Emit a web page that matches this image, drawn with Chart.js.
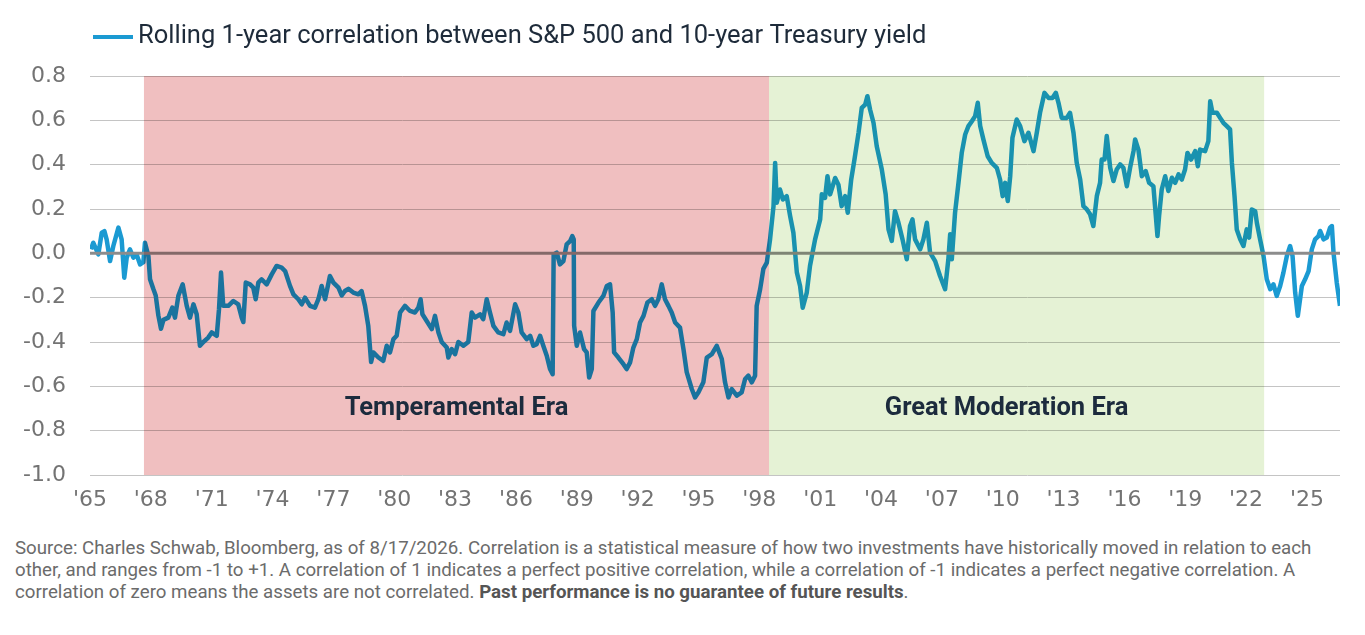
<!DOCTYPE html>
<html>
<head>
<meta charset="utf-8">
<script src="https://cdn.jsdelivr.net/npm/chart.js@4.4.1/dist/chart.umd.min.js"></script>
<style>
  html, body { margin: 0; padding: 0; background: #ffffff; }
  #wrap { position: relative; width: 1365px; height: 635px; overflow: hidden; }
  #c { position: absolute; left: 0; top: 0; }
  #foot { position: absolute; left: 15px; top: 537px; font-family: Roboto, "Noto Sans", sans-serif;
          font-size: 18.7px; line-height: 22px; color: #6b6b6b; white-space: nowrap; }
  #foot b { color: #555555; font-weight: 700; }
</style>
</head>
<body>
<div id="wrap">
  <canvas id="c" width="1365" height="530"></canvas>
  <div id="foot">
    Source: Charles Schwab, Bloomberg, as of 8/17/2026. Correlation is a statistical measure of how two investments have historically moved in relation to each<br>
    other, and ranges from -1 to +1. A correlation of 1 indicates a perfect positive correlation, while a correlation of -1 indicates a perfect negative correlation. A<br>
    correlation of zero means the assets are not correlated. <b>Past performance is no guarantee of future results</b>.
  </div>
</div>
<script>
const seriesLabel = "Rolling 1-year correlation between S&P 500 and 10-year Treasury yield";

const years = [
  1965.05,1965.16,1965.41,1965.58,1965.71,1965.82,1965.99,1966.15,1966.40,1966.56,1966.69,1966.81,1966.97,1967.14,1967.30,1967.47,1967.63,1967.71,1967.88,1967.96,
  1968.12,1968.24,1968.37,1968.50,1968.62,1968.86,1969.06,1969.19,1969.36,1969.57,1969.77,1969.93,1970.10,1970.26,1970.42,1970.59,1970.83,1971.00,1971.25,1971.36,
  1971.46,1971.57,1971.82,1972.07,1972.31,1972.48,1972.56,1972.68,1972.89,1973.05,1973.17,1973.30,1973.46,1973.71,1973.96,1974.20,1974.45,1974.62,1974.86,1975.03,
  1975.27,1975.44,1975.60,1975.85,1976.09,1976.26,1976.42,1976.59,1976.83,1977.00,
  1977.25,1977.41,1977.57,1977.74,1977.98,1978.23,1978.39,1978.56,1978.72,1978.86,1978.97,1979.22,1979.46,1979.63,1979.79,1979.96,1980.12,1980.29,1980.53,1980.78,
  1981.02,1981.19,1981.30,1981.39,1981.60,1981.85,1982.01,1982.18,1982.34,1982.59,1982.67,1982.83,1983.00,1983.16,1983.41,1983.65,1983.82,1983.98,1984.23,1984.39,
  1984.56,1984.72,1984.89,1985.13,1985.38,1985.54,1985.71,1985.96,1986.12,1986.28,1986.53,1986.70,1986.86,1987.02,1987.19,1987.35,1987.52,1987.68,1987.81,1987.86,
  1988.01,1988.17,1988.34,1988.50,1988.67,1988.78,1988.85,
  1988.87,1989.00,1989.16,1989.36,1989.49,1989.61,1989.74,1989.82,1990.07,1990.31,1990.48,1990.64,1990.77,1990.84,1991.05,1991.30,1991.46,1991.63,1991.79,1991.96,
  1992.12,1992.29,1992.48,1992.70,1992.86,1993.02,1993.19,1993.35,1993.52,1993.68,1993.85,1994.09,1994.26,1994.42,1994.67,1994.83,1995.00,1995.24,1995.41,1995.66,
  1995.90,1996.15,1996.31,1996.48,1996.64,1996.89,1997.13,1997.30,1997.46,1997.63,1997.79,1997.87,1998.04,1998.20,1998.37,1998.53,1998.70,1998.78,1998.86,1999.02,
  1999.16,1999.35,1999.52,1999.68,1999.85,2000.01,2000.14,2000.34,2000.50,2000.75,
  2001.00,2001.08,2001.24,2001.36,2001.49,2001.74,2001.90,2002.06,2002.23,2002.36,2002.53,2002.69,2002.89,2003.05,2003.22,2003.33,2003.46,2003.63,2003.79,2004.04,
  2004.23,2004.37,2004.53,2004.69,2004.86,2005.06,2005.27,2005.43,2005.55,2005.68,2005.93,2006.09,2006.26,2006.42,2006.67,2006.91,2007.16,2007.32,2007.41,2007.49,
  2007.65,2007.82,2007.98,2008.15,2008.31,2008.48,2008.64,2008.77,2008.89,2009.05,2009.26,2009.46,2009.71,2009.87,2010.00,2010.12,2010.25,2010.37,2010.48,2010.69,
  2010.86,2011.07,2011.27,2011.52,2011.68,2011.84,2012.06,2012.26,2012.45,2012.62,2012.75,2012.91,2013.16,2013.32,2013.49,2013.65,
  2013.82,2013.98,2014.15,2014.31,2014.47,2014.64,2014.80,2014.88,2015.02,2015.13,2015.30,2015.46,2015.62,2015.79,2015.95,2016.12,2016.28,2016.45,2016.53,2016.69,
  2016.86,2017.05,2017.22,2017.43,2017.55,2017.63,2017.71,2017.84,2018.01,2018.17,2018.34,2018.50,2018.67,2018.83,2018.99,2019.11,2019.29,2019.49,2019.62,2019.73,
  2019.98,2020.14,2020.23,2020.34,2020.56,2020.72,2020.88,2021.05,2021.21,2021.30,2021.43,2021.54,2021.71,2021.87,2022.03,2022.15,2022.28,2022.45,2022.53,2022.69,
  2022.86,2023.02,2023.19,2023.35,2023.51,2023.68,2023.84,2024.01,2024.17,2024.29,2024.42,2024.55,2024.75,2024.91,2025.08,2025.24,2025.40,2025.57,2025.65,2025.82,
  2025.98,2026.14,2026.23,2026.31,2026.47,2026.63
];

const corr = [
  0.018,0.048,-0.005,0.093,0.100,0.063,-0.035,0.033,0.116,0.063,-0.110,-0.020,0.018,-0.020,-0.005,-0.050,-0.040,0.048,-0.012,-0.117,
  -0.160,-0.190,-0.280,-0.340,-0.300,-0.290,-0.245,-0.290,-0.190,-0.140,-0.237,-0.290,-0.230,-0.275,-0.417,-0.400,-0.380,-0.357,-0.372,-0.252,
  -0.087,-0.237,-0.237,-0.215,-0.230,-0.290,-0.310,-0.132,-0.140,-0.155,-0.207,-0.132,-0.117,-0.140,-0.095,-0.057,-0.065,-0.080,-0.147,-0.185,
  -0.207,-0.230,-0.200,-0.237,-0.245,-0.207,-0.147,-0.207,-0.102,-0.132,
  -0.155,-0.190,-0.170,-0.160,-0.177,-0.185,-0.170,-0.237,-0.327,-0.490,-0.447,-0.470,-0.485,-0.417,-0.447,-0.387,-0.372,-0.267,-0.237,-0.260,
  -0.267,-0.245,-0.207,-0.275,-0.305,-0.342,-0.282,-0.357,-0.400,-0.425,-0.470,-0.432,-0.455,-0.400,-0.417,-0.400,-0.267,-0.290,-0.275,-0.297,
  -0.207,-0.267,-0.327,-0.357,-0.365,-0.312,-0.350,-0.230,-0.267,-0.357,-0.387,-0.372,-0.417,-0.410,-0.372,-0.417,-0.462,-0.522,-0.545,-0.005,
  0.003,-0.050,-0.035,0.040,0.055,0.078,0.063,
  -0.327,-0.417,-0.357,-0.432,-0.447,-0.560,-0.522,-0.260,-0.222,-0.192,-0.147,-0.140,-0.267,-0.447,-0.470,-0.500,-0.522,-0.492,-0.425,-0.387,
  -0.312,-0.282,-0.222,-0.207,-0.237,-0.207,-0.140,-0.207,-0.237,-0.267,-0.312,-0.335,-0.432,-0.536,-0.612,-0.650,-0.627,-0.582,-0.470,-0.455,
  -0.417,-0.477,-0.582,-0.650,-0.612,-0.642,-0.627,-0.567,-0.552,-0.582,-0.552,-0.237,-0.162,-0.070,-0.042,0.063,0.213,0.408,0.228,0.288,
  0.243,0.258,0.168,0.093,-0.086,-0.147,-0.245,-0.177,-0.056,0.063,
  0.153,0.266,0.250,0.348,0.266,0.340,0.310,0.213,0.258,0.183,0.333,0.423,0.543,0.656,0.671,0.709,0.649,0.589,0.483,0.378,
  0.266,0.108,0.056,0.190,0.138,0.063,-0.027,0.123,0.153,0.063,0.018,0.063,0.138,0.003,-0.035,-0.102,-0.162,-0.027,0.086,-0.027,
  0.183,0.318,0.453,0.536,0.574,0.596,0.619,0.679,0.574,0.513,0.438,0.408,0.386,0.333,0.258,0.318,0.236,0.348,0.521,0.604,
  0.574,0.506,0.544,0.461,0.544,0.634,0.724,0.701,0.701,0.724,0.679,0.611,0.611,0.634,0.544,0.408,
  0.333,0.213,0.198,0.176,0.123,0.258,0.318,0.423,0.423,0.529,0.386,0.326,0.378,0.401,0.386,0.303,0.386,0.461,0.514,0.468,
  0.348,0.371,0.318,0.303,0.168,0.078,0.168,0.288,0.348,0.281,0.341,0.318,0.356,0.333,0.378,0.453,0.423,0.461,0.393,0.468,
  0.461,0.506,0.686,0.634,0.634,0.611,0.589,0.574,0.559,0.408,0.258,0.108,0.063,0.033,0.108,0.071,0.198,0.190,0.138,0.063,
  -0.012,-0.117,-0.162,-0.140,-0.192,-0.147,-0.087,-0.012,0.033,-0.012,-0.177,-0.282,-0.147,-0.117,-0.080,0.018,0.063,0.078,0.101,0.063,
  0.071,0.116,0.123,0.003,-0.132,-0.237
];

const tickYears = [1965,1968,1971,1974,1977,1980,1983,1986,1989,1992,1995,1998,2001,2004,2007,2010,2013,2016,2019,2022,2025];

const eraNames = ["Temperamental Era", "Great Moderation Era"];
const eraStarts = [1967.66, 1998.48];
const eraEnds = [1998.48, 2022.89];
const eraColors = ["#f0bfc0", "#e5f2d5"];

const xMin = 1965, xMax = 2026.63;
const yMin = -1.0, yMax = 0.8;

const FONT = 'Roboto, "Noto Sans", sans-serif';
const TICK_FONT = '"DejaVu Sans", Roboto, sans-serif';
const LINE_COLOR = '#1b9ad2';
const ERA_LABEL_SHIFT = [0, -10];

const overlayPlugin = {
  id: 'overlay',
  afterDatasetsDraw(chart) {
    const { ctx, chartArea, scales } = chart;
    const x = scales.x, y = scales.y;
    ctx.save();
    const y0 = y.getPixelForValue(0);
    ctx.strokeStyle = '#8c8c8c';
    ctx.lineWidth = 3;
    ctx.beginPath();
    ctx.moveTo(chartArea.left, y0);
    ctx.lineTo(chartArea.right, y0);
    ctx.stroke();
    ctx.globalCompositeOperation = 'multiply';
    for (let i = 0; i < eraNames.length; i++) {
      const x1 = x.getPixelForValue(eraStarts[i]);
      const x2 = x.getPixelForValue(eraEnds[i]);
      ctx.fillStyle = eraColors[i];
      ctx.fillRect(x1, chartArea.top, x2 - x1, chartArea.bottom - chartArea.top);
    }
    ctx.globalCompositeOperation = 'source-over';
    ctx.fillStyle = '#1c2b3d';
    ctx.font = 'bold 25.5px ' + FONT;
    ctx.textAlign = 'center';
    ctx.textBaseline = 'middle';
    for (let i = 0; i < eraNames.length; i++) {
      const cx = (x.getPixelForValue(eraStarts[i]) + x.getPixelForValue(eraEnds[i])) / 2 + ERA_LABEL_SHIFT[i];
      ctx.fillText(eraNames[i], cx, y.getPixelForValue(-0.7));
    }
    ctx.restore();
  },
  afterDraw(chart) {
    const { ctx } = chart;
    ctx.save();
    ctx.strokeStyle = LINE_COLOR;
    ctx.lineWidth = 4;
    ctx.beginPath();
    ctx.moveTo(93, 37);
    ctx.lineTo(133, 37);
    ctx.stroke();
    ctx.fillStyle = '#1e2b3a';
    ctx.font = '25.5px ' + FONT;
    ctx.textAlign = 'left';
    ctx.textBaseline = 'middle';
    ctx.fillText(chart.data.datasets[0].label, 138, 37);
    ctx.restore();
  }
};

new Chart(document.getElementById('c'), {
  type: 'line',
  data: {
    datasets: [{
      label: seriesLabel,
      data: years.map((t, i) => ({ x: t, y: corr[i] })),
      borderColor: LINE_COLOR,
      backgroundColor: LINE_COLOR,
      borderWidth: 4.5,
      pointRadius: 0,
      tension: 0,
      borderJoinStyle: 'round',
      fill: false
    }]
  },
  options: {
    responsive: false,
    animation: false,
    devicePixelRatio: 1,
    layout: { padding: { top: 76, right: 25, left: 0, bottom: 0 } },
    plugins: { legend: { display: false }, tooltip: { enabled: false } },
    scales: {
      x: {
        type: 'linear',
        min: xMin, max: xMax,
        afterBuildTicks: s => { s.ticks = tickYears.map(v => ({ value: v })); },
        afterFit: s => { s.height = 55; },
        grid: { display: false, drawTicks: false },
        border: { display: false },
        ticks: {
          autoSkip: false, maxRotation: 0, padding: 12,
          color: '#737373', font: { family: TICK_FONT, size: 22 },
          callback: v => "'" + String(Math.round(v)).slice(2)
        }
      },
      y: {
        min: yMin, max: yMax,
        afterFit: s => { s.width = 90; },
        grid: { color: '#c4c4c4', lineWidth: 1, drawTicks: false },
        border: { display: false },
        ticks: {
          stepSize: 0.2, padding: 24,
          color: '#737373', font: { family: TICK_FONT, size: 22 },
          callback: v => (Math.abs(v) < 1e-9 ? 0 : v).toFixed(1)
        }
      }
    }
  },
  plugins: [overlayPlugin]
});
</script>
</body>
</html>
